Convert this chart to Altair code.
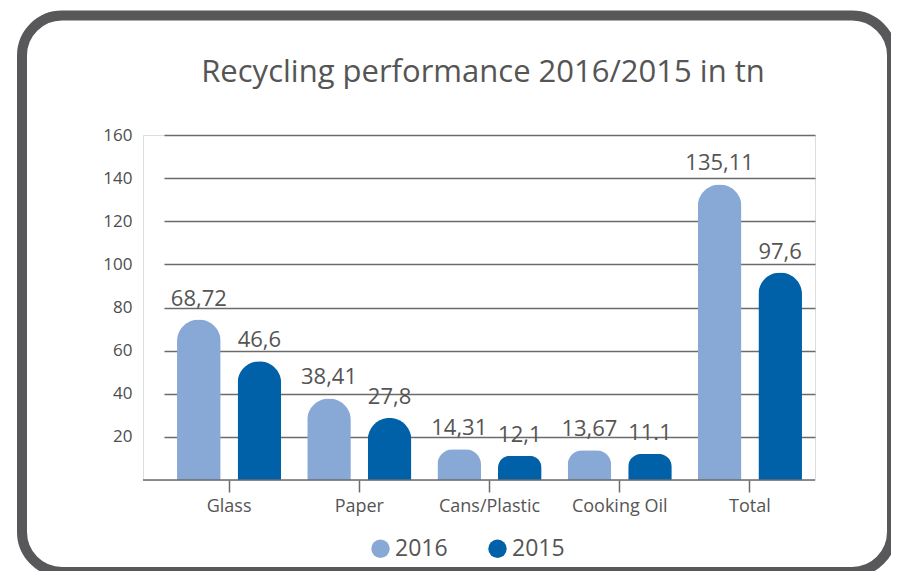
import altair as alt
import pandas as pd

categories = ["Glass", "Paper", "Cans/Plastic", "Cooking Oil", "Total"]
years = ["2016", "2015"]
# bar heights as drawn in the picture
values_2016 = [74.4, 37.8, 14.3, 13.8, 137.1]
values_2015 = [55.1, 28.8, 11.2, 12.1, 96.2]
# value labels as printed above the bars
labels_2016 = ["68,72", "38,41", "14,31", "13,67", "135,11"]
labels_2015 = ["46,6", "27,8", "12,1", "11.1", "97,6"]
y_ticks = [20, 40, 60, 80, 100, 120, 140, 160]
title_text = "Recycling performance 2016/2015 in tn"

rows = []
for i, c in enumerate(categories):
    rows.append({"category": c, "year": "2016", "value": values_2016[i], "label": labels_2016[i]})
    rows.append({"category": c, "year": "2015", "value": values_2015[i], "label": labels_2015[i]})
df = pd.DataFrame(rows)
one = pd.DataFrame({"k": [0]})

W, H = 672, 345
FONT = "Open Sans"
TXT = "#555555"
LINE = "#6b6b6b"

x_enc = alt.X(
    "category:N", sort=categories,
    scale=alt.Scale(range=[21, W], paddingInner=0.2, paddingOuter=0.1),
    axis=alt.Axis(title=None, domain=False, ticks=True, tickSize=12, tickColor=LINE,
                  tickWidth=1.5, labelFontSize=18, labelColor=TXT, labelFont=FONT,
                  labelPadding=5, labelAngle=0, grid=False),
)
xo_enc = alt.XOffset("year:N", sort=years, scale=alt.Scale(paddingInner=0.28))
y_enc = alt.Y(
    "value:Q", scale=alt.Scale(domain=[0, 160], nice=False),
    axis=alt.Axis(values=y_ticks, title=None, domain=False, ticks=False, grid=True,
                  gridColor=LINE, gridWidth=1.6, labelFontSize=17, labelColor="#4d4d4d",
                  labelFont=FONT, labelPadding=11),
)

frame = alt.Chart(one).mark_rect(
    fillOpacity=0, stroke="#58585a", strokeWidth=10, cornerRadius=40
).encode(x=alt.value(-121), x2=alt.value(749), y=alt.value(-119.5), y2=alt.value(437))

bars = alt.Chart(df).mark_bar(cornerRadiusTopLeft=22, cornerRadiusTopRight=22).encode(
    x=x_enc, xOffset=xo_enc, y=y_enc,
    color=alt.Color(
        "year:N", sort=years,
        scale=alt.Scale(domain=years, range=["#88a8d5", "#0061a8"]),
        legend=alt.Legend(orient="none", legendX=226, legendY=402, direction="horizontal",
                          title=None, symbolType="circle", symbolSize=340,
                          symbolStrokeWidth=0, labelFontSize=23, labelFont=FONT,
                          labelColor=TXT, columnPadding=38, labelOffset=3),
    ),
)

labels = alt.Chart(df).mark_text(
    font=FONT, fontSize=22, color=TXT, baseline="alphabetic", align="center", dy=-14
).encode(x=alt.X("category:N", sort=categories), xOffset=alt.XOffset("year:N", sort=years),
         y="value:Q", text="label:N")

baseline = alt.Chart(one).mark_rule(color=LINE, strokeWidth=1.6).encode(y=alt.datum(0))

title = alt.Chart(one).mark_text(
    text=title_text, font=FONT, fontSize=31, color=TXT, align="center", baseline="alphabetic"
).encode(x=alt.value(340), y=alt.value(-53))

chart = alt.layer(frame, bars, labels, baseline, title).properties(
    width=W, height=H,
    autosize=alt.AutoSizeParams(type="none"),
    padding={"left": 135, "top": 127, "right": 76, "bottom": 91},
).configure_view(stroke=None).configure(background="white")

chart.save("out.html", embed_options={"renderer": "svg", "actions": False})
